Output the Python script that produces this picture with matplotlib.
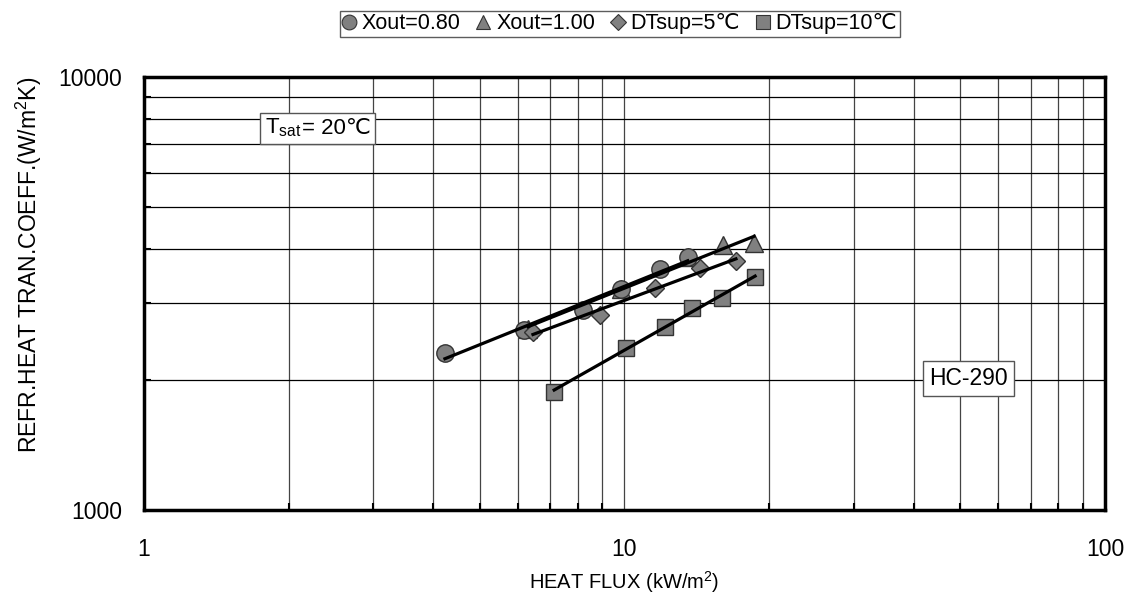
import numpy as np
import matplotlib
matplotlib.use("Agg")
import matplotlib.pyplot as plt
from matplotlib.ticker import LogLocator, NullFormatter, FixedLocator, FixedFormatter
from matplotlib.lines import Line2D
from matplotlib.offsetbox import AnchoredOffsetbox, HPacker, TextArea

plt.rcParams['font.family'] = ['Liberation Sans', 'DejaVu Sans']
plt.rcParams['mathtext.fontset'] = 'custom'
plt.rcParams['mathtext.rm'] = 'Liberation Sans'
plt.rcParams['mathtext.it'] = 'Liberation Sans:italic'
plt.rcParams['mathtext.bf'] = 'Liberation Sans:bold'

# Data (heat flux kW/m2, heat transfer coefficient W/m2K)
circ_x = [4.23, 6.18, 8.21, 9.83, 11.86, 13.54]
circ_y = [2300, 2600, 2900, 3230, 3610, 3830]
tri_x = [6.30, 9.83, 13.54, 16.05, 18.6]
tri_y = [2620, 3230, 3830, 4090, 4130]
dia_x = [6.45, 8.90, 11.57, 14.36, 17.06]
dia_y = [2580, 2820, 3250, 3615, 3765]
sq_x = [7.14, 10.06, 12.14, 13.80, 15.94, 18.70]
sq_y = [1876, 2363, 2650, 2923, 3083, 3458]

labels = ['Xout=0.80', 'Xout=1.00', 'DTsup=5℃', 'DTsup=10℃']
markers = ['o', '^', 'D', 's']
sizes = [12.5, 12.5, 9.5, 11.5]

fig = plt.figure(figsize=(11.31, 6.10), dpi=100)
ax = fig.add_axes([0.1273, 0.164, 0.8497, 0.7098])
ax.set_xscale('log')
ax.set_yscale('log')
ax.set_xlim(1, 100)
ax.set_ylim(1000, 10000)

series = [(circ_x, circ_y), (tri_x, tri_y), (dia_x, dia_y), (sq_x, sq_y)]
zords = [4, 3, 5, 6]
grey = '#808080'
for (xs, ys), m, s, z in zip(series, markers, sizes, zords):
    ax.plot(xs, ys, linestyle='none', marker=m, markersize=s,
            markerfacecolor=grey, markeredgecolor='#333333', markeredgewidth=1.0, zorder=z)
for (xs, ys) in series:
    lx = np.log10(xs)
    ly = np.log10(ys)
    k, b = np.polyfit(lx, ly, 1)
    xx = np.array([min(xs), max(xs)])
    ax.plot(xx, 10 ** (k * np.log10(xx) + b), color='black', lw=2.3, zorder=7)

# grid
ax.xaxis.set_major_locator(FixedLocator([1, 10, 100]))
ax.xaxis.set_major_formatter(FixedFormatter(['1', '10', '100']))
ax.xaxis.set_minor_locator(LogLocator(base=10, subs=np.arange(2, 10)))
ax.xaxis.set_minor_formatter(NullFormatter())
ax.yaxis.set_major_locator(FixedLocator([1000, 10000]))
ax.yaxis.set_major_formatter(FixedFormatter(['1000', '10000']))
ax.yaxis.set_minor_locator(LogLocator(base=10, subs=np.arange(2, 10)))
ax.yaxis.set_minor_formatter(NullFormatter())
ax.grid(True, which='both', axis='x', color='#444444', lw=0.9)
ax.grid(True, which='both', axis='y', color='black', lw=0.9)
ax.set_axisbelow(True)

ax.tick_params(which='both', direction='in', top=False, right=False, width=1.5, color='black')
ax.tick_params(which='major', length=0, labelsize=16.5)
ax.tick_params(axis='x', which='major', pad=20)
ax.tick_params(axis='y', which='major', pad=16)
ax.tick_params(which='minor', length=5)
for sp in ax.spines.values():
    sp.set_linewidth(2.5)
    sp.set_color('black')

ax.set_xlabel('HEAT FLUX (kW/m$^2$)', fontsize=14.5, labelpad=6)
ax.set_ylabel('REFR.HEAT TRAN.COEFF.(W/m$^2$K)', fontsize=16.5)
ax.yaxis.set_label_coords(-0.104, 0.566)

# T_sat box
tp = dict(fontsize=16)
t1 = TextArea('T$_{\\mathrm{sat}}$', textprops=tp)
t2 = TextArea('= 20℃', textprops=dict(fontsize=16, family=['Liberation Sans', 'DejaVu Sans']))
pack = HPacker(children=[t1, t2], align='baseline', pad=0, sep=1)
ab = AnchoredOffsetbox(loc='center', child=pack, pad=0.3, borderpad=0, frameon=True,
                       bbox_to_anchor=(0.181, 0.882), bbox_transform=ax.transAxes)
ab.patch.set_boxstyle('square', pad=0)
ab.patch.set_edgecolor('#555555')
ab.patch.set_linewidth(1)
ab.set_zorder(10)
ax.add_artist(ab)

ax.text(0.858, 0.304, 'HC-290', transform=ax.transAxes, fontsize=16.5,
        ha='center', va='center', zorder=10,
        bbox=dict(boxstyle='square,pad=0.25', fc='white', ec='#555555', lw=1))

handles = [Line2D([], [], linestyle='none', marker=m, markersize=s * 0.85,
                  markerfacecolor=grey, markeredgecolor='#333333', markeredgewidth=0.8)
           for m, s in zip(markers, sizes)]
leg = fig.legend(handles, labels, loc='center', bbox_to_anchor=(0.548, 0.961), ncol=4,
                 fontsize=15.5, frameon=True, fancybox=False, handlelength=0.6,
                 handletextpad=0.3, columnspacing=0.75, borderpad=0.12, borderaxespad=0)
leg.get_frame().set_edgecolor('#333333')
leg.get_frame().set_linewidth(1.0)

fig.savefig('out.png', dpi=100)
